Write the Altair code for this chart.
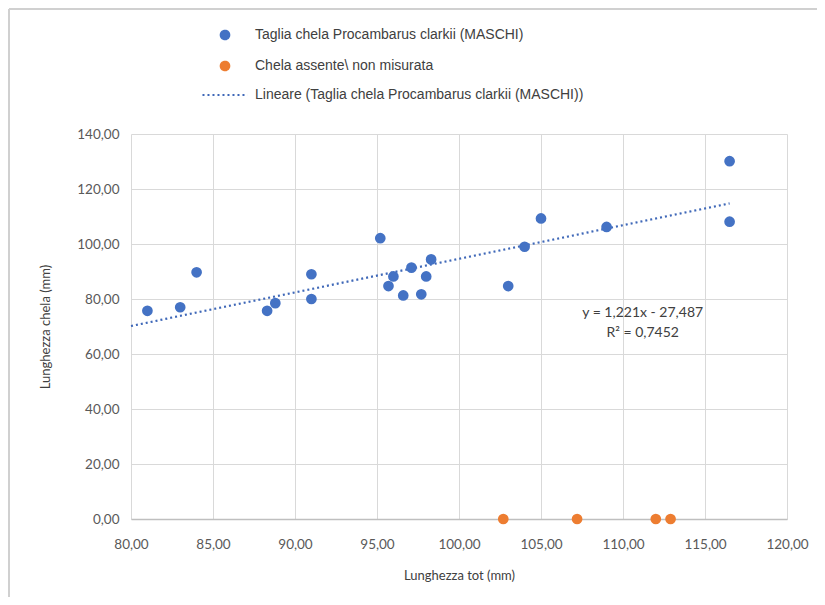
import altair as alt
import pandas as pd

# ---- data ----
maschi_x = [81.0, 83.0, 84.0, 88.3, 88.8, 91.0, 91.0, 95.2, 95.7, 96.0, 96.6,
            97.1, 97.7, 98.0, 98.3, 103.0, 104.0, 105.0, 109.0, 116.5, 116.5]
maschi_y = [75.7, 77.0, 89.7, 75.7, 78.5, 89.0, 80.0, 102.1, 84.7, 88.2, 81.3,
            91.4, 81.7, 88.2, 94.4, 84.7, 99.0, 109.3, 106.2, 130.1, 108.1]
assente_x = [102.7, 107.2, 112.0, 112.9]
assente_y = [0.0, 0.0, 0.0, 0.0]

# trend line from the equation printed on the chart
slope, intercept = 1.221, -27.487
trend_x = [80.0, 116.5]

series = ["Taglia chela Procambarus clarkii (MASCHI)",
          "Chela assente\\ non misurata",
          "Lineare (Taglia chela Procambarus clarkii (MASCHI))"]
colors = ["#4472C4", "#ED7D31", "#3F68B8"]
eq_lines = ["y = 1,221x - 27,487", "R\u00b2 = 0,7452"]
eq_x = [111.2, 111.2]
eq_y = [74.9, 67.6]

x_ticks = [80, 85, 90, 95, 100, 105, 110, 115, 120]
y_ticks = [0, 20, 40, 60, 80, 100, 120, 140]

pts = pd.DataFrame({
    "x": maschi_x + assente_x,
    "y": maschi_y + assente_y,
    "serie": [series[0]] * len(maschi_x) + [series[1]] * len(assente_x),
})
trend = pd.DataFrame({
    "x": trend_x,
    "y": [slope * v + intercept for v in trend_x],
    "serie": [series[2]] * len(trend_x),
})
eq = pd.DataFrame({"x": eq_x, "y": eq_y, "t": eq_lines})
frame_df = pd.DataFrame({"a": [0]})

lab = "replace(format(datum.value, '.2f'), '.', ',')"

xs = alt.Scale(domain=[80, 120], nice=False, zero=False)
ys = alt.Scale(domain=[0, 140], nice=False)

X = alt.X("x:Q", scale=xs, title="Lunghezza tot (mm)",
          axis=alt.Axis(values=x_ticks, labelExpr=lab))
Y = alt.Y("y:Q", scale=ys, title="Lunghezza chela (mm)",
          axis=alt.Axis(values=y_ticks, labelExpr=lab))

legend = alt.Legend(title=None, orient="none", legendX=87, legendY=-106,
                    direction="vertical", labelFont="Liberation Sans",
                    labelFontSize=14, labelColor="#404040", symbolSize=75,
                    symbolStrokeWidth=2, rowPadding=13, labelOffset=23,
                    labelLimit=600)

sc = alt.Scale(domain=series, range=colors)
shape_sc = alt.Scale(domain=series, range=["circle", "circle", "M-5.2,0H5.2"])
dash_sc = alt.Scale(domain=series, range=[[1, 0], [1, 0], [2, 3]])

points = alt.Chart(pts).mark_point(filled=True, size=115, opacity=1,
                                   strokeWidth=0).encode(
    x=X, y=Y,
    fill=alt.Fill("serie:N", scale=sc, legend=legend),
    stroke=alt.Stroke("serie:N", scale=sc, legend=legend),
    shape=alt.Shape("serie:N", scale=shape_sc, legend=legend),
)

line = alt.Chart(trend).mark_line(strokeWidth=2.2).encode(
    x=X, y=Y,
    stroke=alt.Stroke("serie:N", scale=sc, legend=legend),
    strokeDash=alt.StrokeDash("serie:N", scale=dash_sc, legend=legend),
)

text = alt.Chart(eq).mark_text(font="Lato", fontSize=14, color="#404040").encode(
    x=alt.X("x:Q", scale=xs), y=alt.Y("y:Q", scale=ys), text="t:N")

frame_left = alt.Chart(frame_df).mark_rule(color="#D0D0D0", strokeWidth=2).encode(
    x=alt.value(-122), y=alt.value(-125), y2=alt.value(463))
frame_top = alt.Chart(frame_df).mark_rule(color="#D0D0D0", strokeWidth=2).encode(
    x=alt.value(-122), x2=alt.value(686), y=alt.value(-125))

chart = alt.layer(frame_left, frame_top, line, points, text).properties(
    width=656, height=385,
    autosize=alt.AutoSizeParams(type="none"),
    padding={"left": 123, "top": 126, "right": 30, "bottom": 78},
).configure_view(stroke=None).configure_axis(
    grid=True, gridColor="#D9D9D9", gridWidth=1,
    domain=False, ticks=False, labelFlush=False,
    labelFont="Lato", labelFontSize=13.5, labelColor="#595959",
    titleFont="Lato", titleFontSize=13, titleColor="#404040",
    titleFontWeight="normal",
).configure_axisX(
    domain=True, domainColor="#BFBFBF", domainWidth=1.5,
    labelPadding=18, titlePadding=19,
).configure_axisY(
    labelPadding=12, titlePadding=24,
)

chart.save("out.html", embed_options={"renderer": "svg", "actions": False})
